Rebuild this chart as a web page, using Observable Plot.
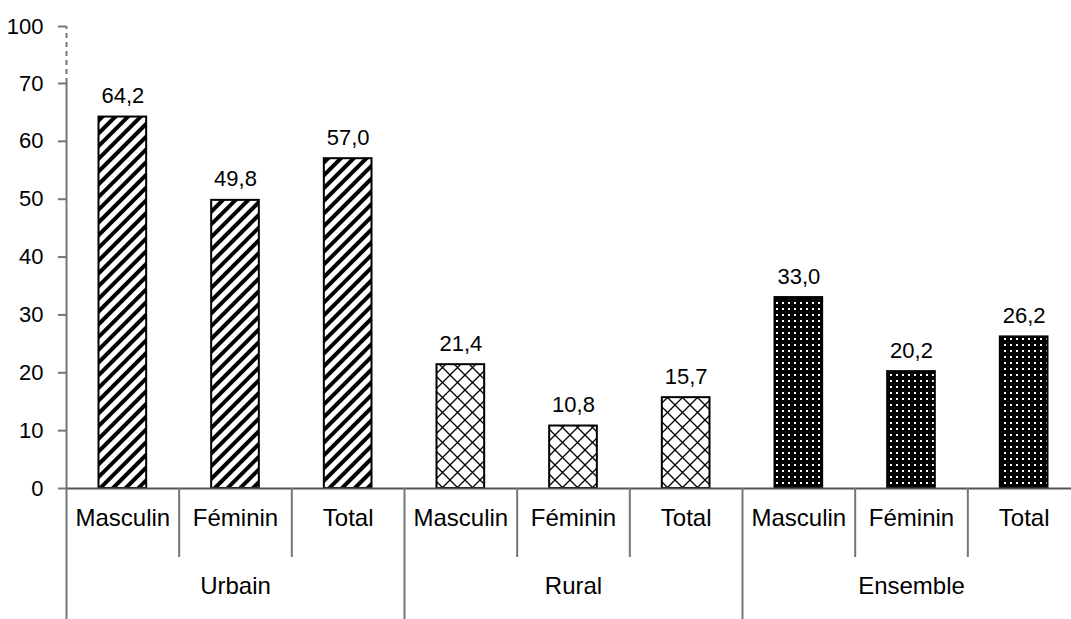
<!DOCTYPE html>
<html>
<head>
<meta charset="utf-8">
<script src="https://cdn.jsdelivr.net/npm/d3@7"></script>
<script src="https://cdn.jsdelivr.net/npm/@observablehq/plot@0.6"></script>
<style>
  html, body { margin: 0; padding: 0; background: #fff; overflow: hidden; }
  #chart { width: 1071px; height: 619px; }
</style>
</head>
<body>
<div id="chart"></div>
<script>
// ---- data ----
const groups = ["Urbain", "Rural", "Ensemble"];
const sexes = ["Masculin", "Féminin", "Total"];
const urbainValues = [64.2, 49.8, 57.0];
const ruralValues = [21.4, 10.8, 15.7];
const ensembleValues = [33.0, 20.2, 26.2];
const yTicks = [0, 10, 20, 30, 40, 50, 60, 70, 100];

const valuesByGroup = {Urbain: urbainValues, Rural: ruralValues, Ensemble: ensembleValues};
const patternByGroup = {Urbain: "url(#p-hatch)", Rural: "url(#p-cross)", Ensemble: "url(#p-dots)"};

const rows = [];
for (const g of groups) {
  sexes.forEach((s, i) => {
    rows.push({group: g, sex: s, key: g + "|" + s, value: valuesByGroup[g][i], pattern: patternByGroup[g]});
  });
}
const keys = rows.map(d => d.key);
const groupStarts = groups.map(g => g + "|" + sexes[0]);
const groupMiddles = groups.map(g => ({group: g, key: g + "|" + sexes[1]}));
const subSeps = rows.filter(d => d.sex !== sexes[0]).map(d => d.key);

// broken axis: values above 70 are compressed (70 -> 100 drawn in a short gap)
const breakAt = 70;
const breakRatio = 9.85 / 30;
const breakY = v => (v <= breakAt ? v : breakAt + (v - breakAt) * breakRatio);

const xRange = [66, 1080];
const step = (xRange[1] - xRange[0]) / keys.length;
const lineColor = "#767676";
const fmt = v => v.toFixed(1).replace(".", ",");

const chart = Plot.plot({
  width: 1071,
  height: 619,
  marginLeft: 66,
  marginRight: 0,
  marginTop: 26,
  marginBottom: 131,
  style: {fontFamily: "'Liberation Sans', Arial, sans-serif", fontSize: "22px", color: "#000", background: "#fff"},
  x: {type: "band", domain: keys, range: xRange, padding: 0, round: false, axis: null},
  y: {type: "linear", transform: breakY, domain: [0, breakY(100)], axis: null, label: null},
  color: {type: "identity"},
  marks: [
    // y axis line: solid part and dashed break part
    Plot.ruleX([keys[0]], {x: d => d, dx: -step / 2, y1: 0, y2: 70, stroke: lineColor, strokeWidth: 2}),
    Plot.ruleX([keys[0]], {x: d => d, dx: -step / 2, y1: 70, y2: 100, stroke: lineColor, strokeWidth: 2, strokeDasharray: "5,4"}),
    Plot.axisY(yTicks, {tickSize: 8, tickPadding: 15, stroke: lineColor, strokeWidth: 2, fontSize: 22, tickFormat: d => String(d), fill: "#000", label: null}),
    // bars
    Plot.barY(rows, {x: "key", y: "value", fill: "pattern", stroke: "#000", strokeWidth: 2, insetLeft: 32.5, insetRight: 32.5}),
    // zero line
    Plot.ruleY([0], {stroke: "#555", strokeWidth: 2}),
    // separators below axis
    Plot.ruleX(subSeps, {x: d => d, dx: -step / 2, insetTop: 462, insetBottom: -69, stroke: lineColor, strokeWidth: 2}),
    Plot.ruleX(groupStarts, {x: d => d, dx: -step / 2, insetTop: 462, insetBottom: -131, stroke: lineColor, strokeWidth: 2}),
    // value labels
    Plot.text(rows, {x: "key", y: "value", text: d => fmt(d.value), dy: -14, lineAnchor: "bottom", fontSize: 22, fill: "#000"}),
    // sub-category labels
    Plot.text(rows, {x: "key", text: "sex", frameAnchor: "bottom", dy: 37, fontSize: 24, fill: "#000"}),
    // group labels
    Plot.text(groupMiddles, {x: "key", text: "group", frameAnchor: "bottom", dy: 105, fontSize: 24, fill: "#000"})
  ]
});

// patterns
const svg = d3.select(chart);
const defs = svg.insert("defs", ":first-child");
const hatch = defs.append("pattern").attr("id", "p-hatch").attr("patternUnits", "userSpaceOnUse")
  .attr("width", 9).attr("height", 9).attr("patternTransform", "rotate(45)");
hatch.append("rect").attr("width", 9).attr("height", 9).attr("fill", "#fff");
hatch.append("rect").attr("x", 0).attr("y", 0).attr("width", 4).attr("height", 9).attr("fill", "#000");

const cross = defs.append("pattern").attr("id", "p-cross").attr("patternUnits", "userSpaceOnUse")
  .attr("width", 15).attr("height", 15);
cross.append("rect").attr("width", 15).attr("height", 15).attr("fill", "#fff");
cross.append("path").attr("d", "M0,0L15,15M15,0L0,15M-1,14L1,16M14,-1L16,1").attr("stroke", "#000").attr("stroke-width", 1.3).attr("fill", "none");

const dots = defs.append("pattern").attr("id", "p-dots").attr("patternUnits", "userSpaceOnUse")
  .attr("width", 6).attr("height", 6);
dots.append("rect").attr("width", 6).attr("height", 6).attr("fill", "#000");
dots.append("rect").attr("x", 2).attr("y", 2).attr("width", 2).attr("height", 2).attr("fill", "#fff");

document.getElementById("chart").appendChild(chart);
</script>
</body>
</html>
